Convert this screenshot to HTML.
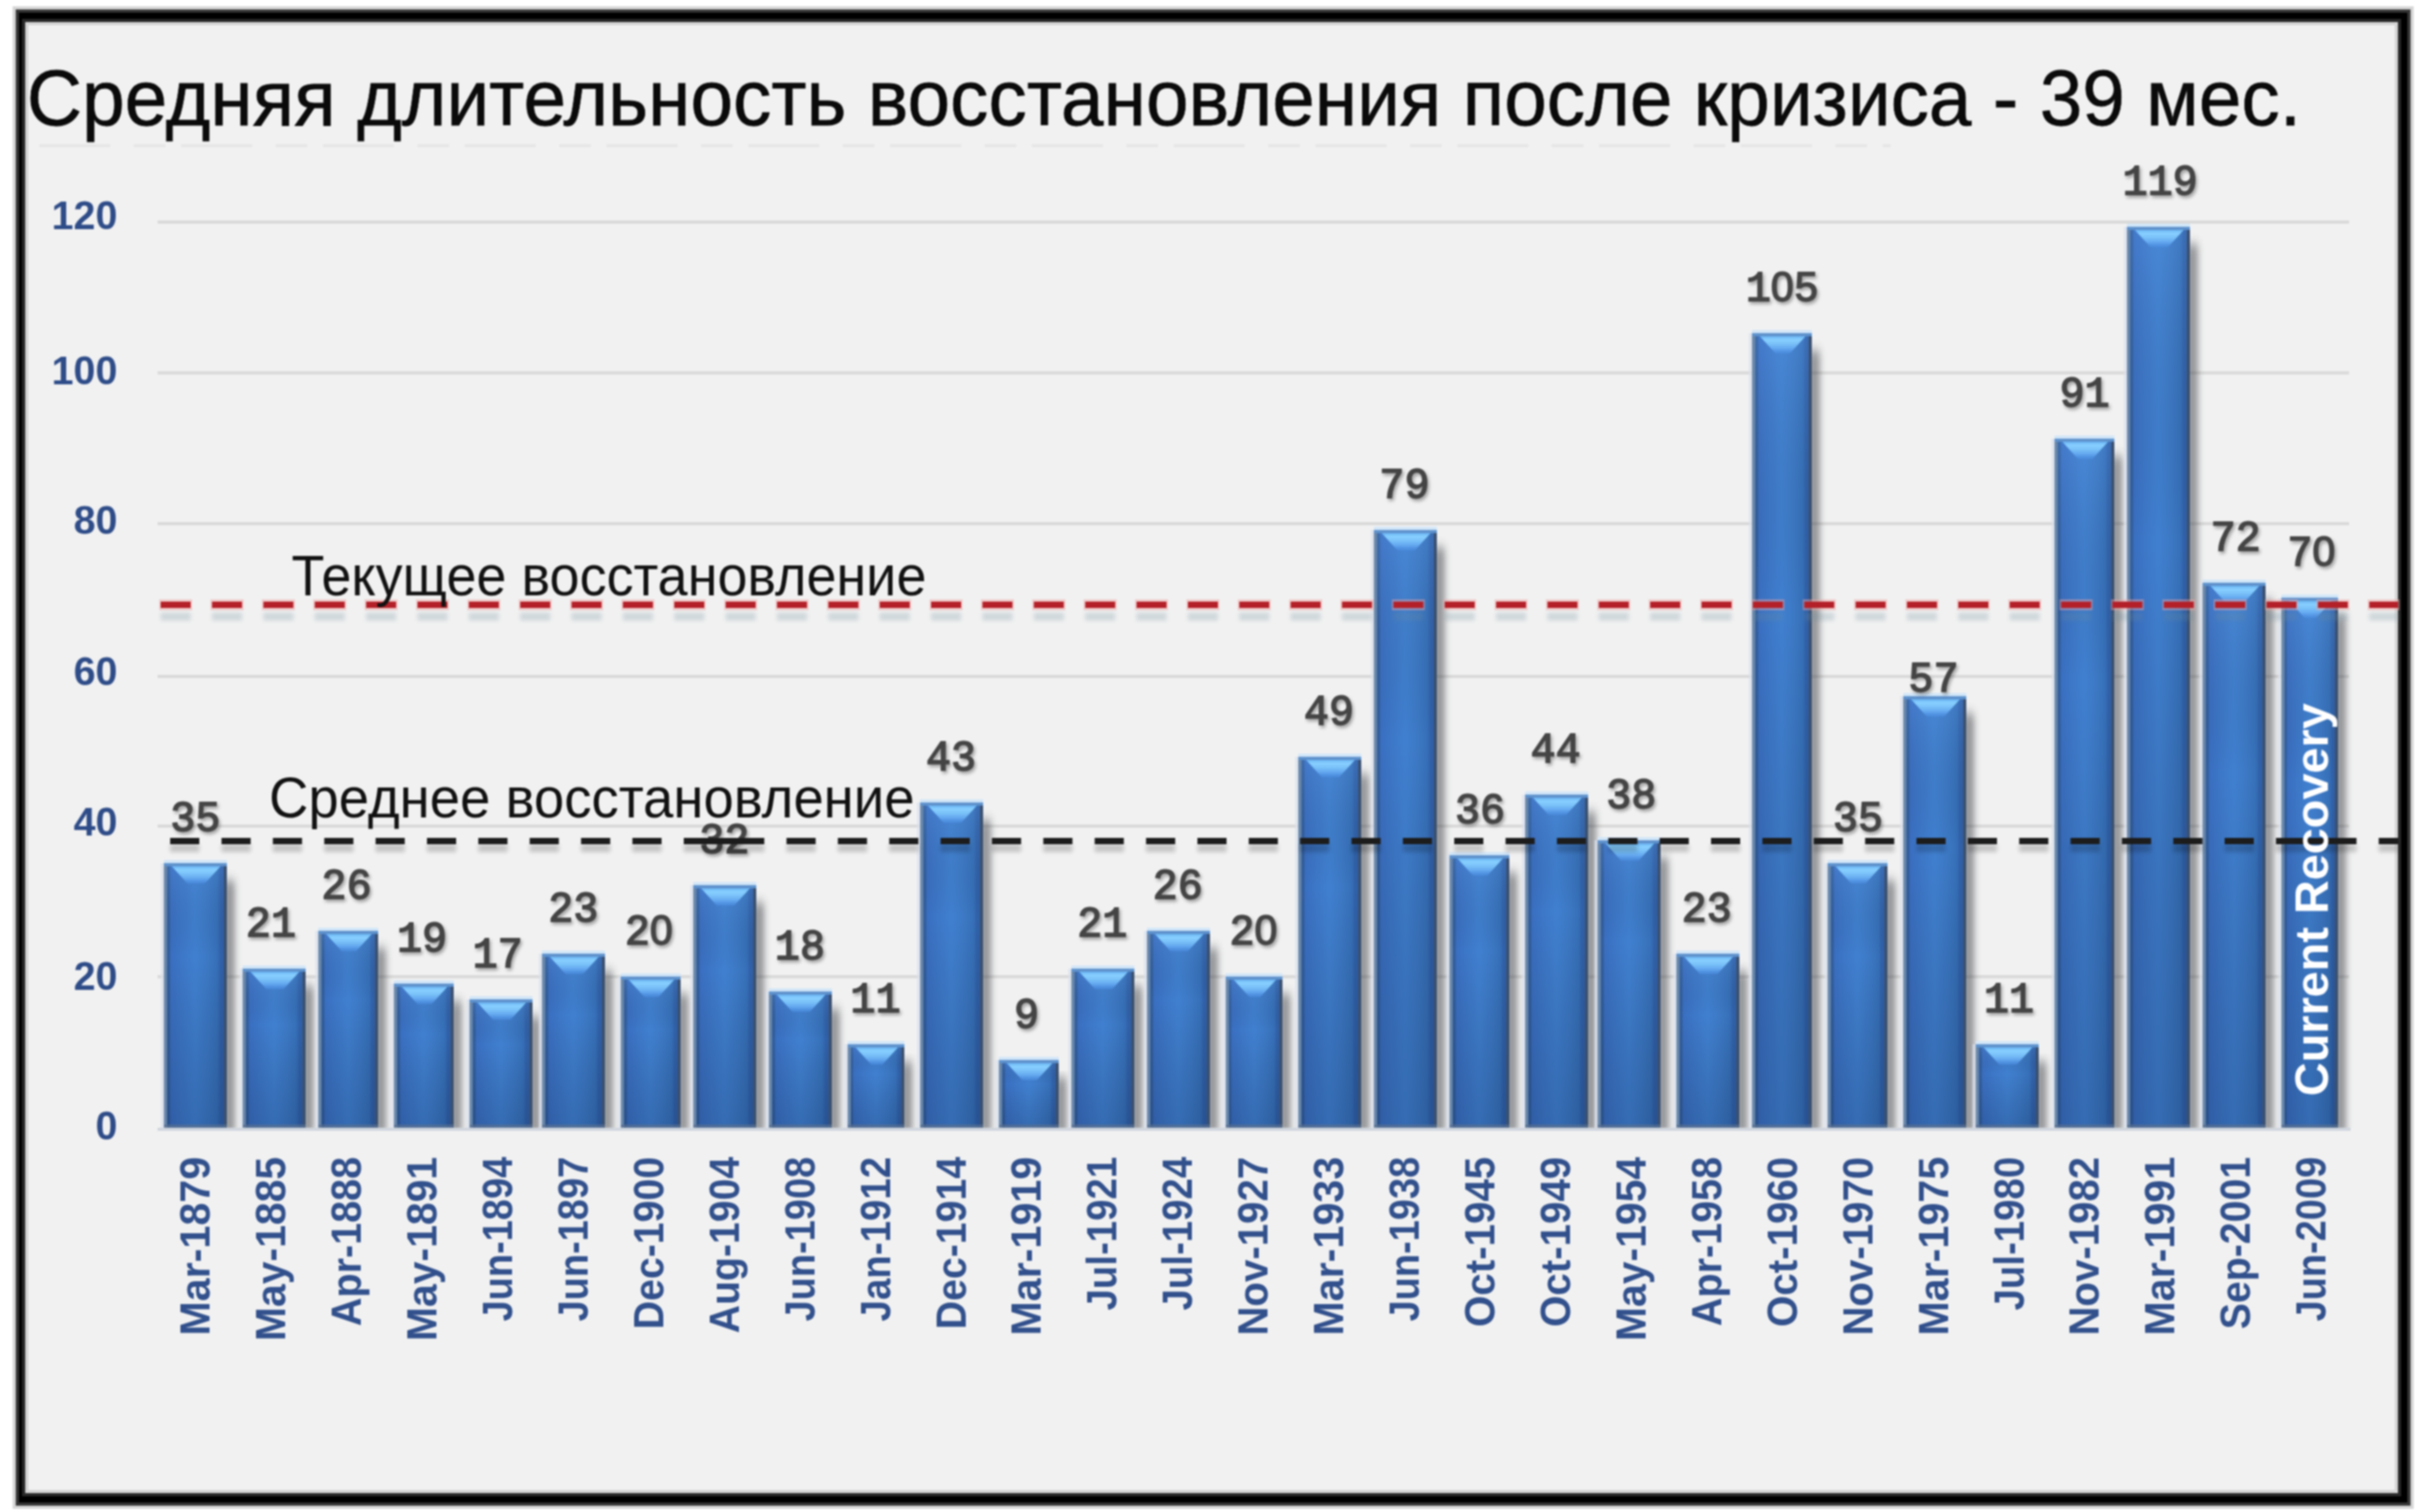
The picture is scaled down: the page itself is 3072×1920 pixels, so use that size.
<!DOCTYPE html><html><head><meta charset="utf-8"><style>html,body{margin:0;padding:0;background:#fff;width:3072px;height:1920px;overflow:hidden}svg{display:block;filter:blur(1.1px)}</style></head><body>
<svg width="3072" height="1920" viewBox="0 0 3072 1920">
<defs>
<linearGradient id="body" x1="0" y1="0" x2="1" y2="0"><stop offset="0" stop-color="#6a88aa"/><stop offset="0.05" stop-color="#6a88aa"/><stop offset="0.05" stop-color="#335f9e"/><stop offset="0.1" stop-color="#335f9e"/><stop offset="0.1" stop-color="#3a6ec0"/><stop offset="0.3" stop-color="#3d78c8"/><stop offset="0.5" stop-color="#4080d0"/><stop offset="0.7" stop-color="#3c78c4"/><stop offset="0.85" stop-color="#3670b8"/><stop offset="0.9" stop-color="#3060a8"/><stop offset="0.95" stop-color="#3060a8"/><stop offset="0.95" stop-color="#3a5070"/><stop offset="1" stop-color="#3a5070"/></linearGradient>
<linearGradient id="vshade" x1="0" y1="0" x2="0" y2="1"><stop offset="0" stop-color="#7ab8ff" stop-opacity="0.16"/><stop offset="0.35" stop-color="#000" stop-opacity="0"/><stop offset="1" stop-color="#001030" stop-opacity="0.18"/></linearGradient>
<linearGradient id="bevel" x1="0" y1="0" x2="0" y2="1"><stop offset="0" stop-color="#6ab4f4"/><stop offset="0.2" stop-color="#88d0ff"/><stop offset="0.45" stop-color="#78c0f8"/><stop offset="0.7" stop-color="#64a8f0"/><stop offset="1" stop-color="#4a8ce0" stop-opacity="0.6"/></linearGradient>
<linearGradient id="shadow" x1="0" y1="0" x2="1" y2="0"><stop offset="0" stop-color="#303640" stop-opacity="0.45"/><stop offset="0.5" stop-color="#404040" stop-opacity="0.25"/><stop offset="1" stop-color="#404040" stop-opacity="0.04"/></linearGradient>
<filter id="soft" x="-5%" y="-5%" width="110%" height="110%"><feGaussianBlur stdDeviation="1.2"/></filter>
<filter id="lblshadow" x="-20%" y="-20%" width="140%" height="150%"><feGaussianBlur in="SourceAlpha" stdDeviation="2"/><feOffset dx="2" dy="3"/><feComponentTransfer><feFuncA type="linear" slope="0.35"/></feComponentTransfer><feMerge><feMergeNode/><feMergeNode in="SourceGraphic"/></feMerge></filter>
<filter id="shblur" x="-100%" y="-10%" width="300%" height="120%"><feGaussianBlur stdDeviation="4.5 7"/></filter>
<filter id="dblur" x="-20%" y="-100%" width="140%" height="300%"><feGaussianBlur stdDeviation="2.5"/></filter>
<clipPath id="plotclip"><rect x="0" y="0" width="3072" height="1432"/></clipPath>
</defs>
<rect x="16" y="8" width="3048" height="1908" fill="#d6d6d6"/>
<rect x="20" y="12" width="3040" height="1900" fill="#363636"/>
<rect x="24" y="16" width="3032" height="1892" fill="#000"/>
<rect x="28" y="24" width="3020" height="1876" fill="#282828"/>
<rect x="32" y="28" width="3012" height="1868" fill="#d4d4d4"/>
<rect x="36" y="32" width="3004" height="1860" fill="#f1f1f1"/>
<line x1="50" y1="185" x2="2400" y2="185" stroke="#e6e6e6" stroke-width="4" stroke-dasharray="90 30 40 20"/>
<rect x="200" y="1238.3" width="2782" height="4" fill="#d9d9d9"/>
<rect x="200" y="1047.0" width="2782" height="4" fill="#d9d9d9"/>
<rect x="200" y="857.0" width="2782" height="4" fill="#d9d9d9"/>
<rect x="200" y="663.0" width="2782" height="4" fill="#d9d9d9"/>
<rect x="200" y="471.5" width="2782" height="4" fill="#d9d9d9"/>
<rect x="200" y="280.0" width="2782" height="4" fill="#d9d9d9"/>
<rect x="200" y="1432" width="2784" height="4" fill="#d0d6de"/>
<text x="149" y="1447.0" text-anchor="end" font-family="Liberation Sans" font-weight="bold" font-size="50" fill="#2e4c88">0</text>
<text x="149" y="1256.5" text-anchor="end" font-family="Liberation Sans" font-weight="bold" font-size="50" fill="#2e4c88">20</text>
<text x="149" y="1060.5" text-anchor="end" font-family="Liberation Sans" font-weight="bold" font-size="50" fill="#2e4c88">40</text>
<text x="149" y="870.0" text-anchor="end" font-family="Liberation Sans" font-weight="bold" font-size="50" fill="#2e4c88">60</text>
<text x="149" y="678.0" text-anchor="end" font-family="Liberation Sans" font-weight="bold" font-size="50" fill="#2e4c88">80</text>
<text x="149" y="487.5" text-anchor="end" font-family="Liberation Sans" font-weight="bold" font-size="50" fill="#2e4c88">100</text>
<text x="149" y="290.5" text-anchor="end" font-family="Liberation Sans" font-weight="bold" font-size="50" fill="#2e4c88">120</text>
<rect x="284" y="1118" width="14" height="324" fill="#30343a" opacity="0.5" filter="url(#shblur)" clip-path="url(#plotclip)"/>
<rect x="384" y="1252" width="14" height="190" fill="#30343a" opacity="0.5" filter="url(#shblur)" clip-path="url(#plotclip)"/>
<rect x="476" y="1204" width="14" height="238" fill="#30343a" opacity="0.5" filter="url(#shblur)" clip-path="url(#plotclip)"/>
<rect x="572" y="1271" width="14" height="171" fill="#30343a" opacity="0.5" filter="url(#shblur)" clip-path="url(#plotclip)"/>
<rect x="672" y="1291" width="14" height="151" fill="#30343a" opacity="0.5" filter="url(#shblur)" clip-path="url(#plotclip)"/>
<rect x="764" y="1233" width="14" height="209" fill="#30343a" opacity="0.5" filter="url(#shblur)" clip-path="url(#plotclip)"/>
<rect x="860" y="1262" width="14" height="180" fill="#30343a" opacity="0.5" filter="url(#shblur)" clip-path="url(#plotclip)"/>
<rect x="956" y="1146" width="14" height="296" fill="#30343a" opacity="0.5" filter="url(#shblur)" clip-path="url(#plotclip)"/>
<rect x="1052" y="1281" width="14" height="161" fill="#30343a" opacity="0.5" filter="url(#shblur)" clip-path="url(#plotclip)"/>
<rect x="1144" y="1348" width="14" height="94" fill="#30343a" opacity="0.5" filter="url(#shblur)" clip-path="url(#plotclip)"/>
<rect x="1244" y="1041" width="14" height="401" fill="#30343a" opacity="0.5" filter="url(#shblur)" clip-path="url(#plotclip)"/>
<rect x="1340" y="1368" width="14" height="74" fill="#30343a" opacity="0.5" filter="url(#shblur)" clip-path="url(#plotclip)"/>
<rect x="1436" y="1252" width="14" height="190" fill="#30343a" opacity="0.5" filter="url(#shblur)" clip-path="url(#plotclip)"/>
<rect x="1532" y="1204" width="14" height="238" fill="#30343a" opacity="0.5" filter="url(#shblur)" clip-path="url(#plotclip)"/>
<rect x="1624" y="1262" width="14" height="180" fill="#30343a" opacity="0.5" filter="url(#shblur)" clip-path="url(#plotclip)"/>
<rect x="1724" y="983" width="14" height="459" fill="#30343a" opacity="0.5" filter="url(#shblur)" clip-path="url(#plotclip)"/>
<rect x="1820" y="695" width="14" height="747" fill="#30343a" opacity="0.5" filter="url(#shblur)" clip-path="url(#plotclip)"/>
<rect x="1912" y="1108" width="14" height="334" fill="#30343a" opacity="0.5" filter="url(#shblur)" clip-path="url(#plotclip)"/>
<rect x="2012" y="1031" width="14" height="411" fill="#30343a" opacity="0.5" filter="url(#shblur)" clip-path="url(#plotclip)"/>
<rect x="2104" y="1089" width="14" height="353" fill="#30343a" opacity="0.5" filter="url(#shblur)" clip-path="url(#plotclip)"/>
<rect x="2204" y="1233" width="14" height="209" fill="#30343a" opacity="0.5" filter="url(#shblur)" clip-path="url(#plotclip)"/>
<rect x="2296" y="445" width="14" height="997" fill="#30343a" opacity="0.5" filter="url(#shblur)" clip-path="url(#plotclip)"/>
<rect x="2392" y="1118" width="14" height="324" fill="#30343a" opacity="0.5" filter="url(#shblur)" clip-path="url(#plotclip)"/>
<rect x="2492" y="906" width="14" height="536" fill="#30343a" opacity="0.5" filter="url(#shblur)" clip-path="url(#plotclip)"/>
<rect x="2584" y="1348" width="14" height="94" fill="#30343a" opacity="0.5" filter="url(#shblur)" clip-path="url(#plotclip)"/>
<rect x="2680" y="579" width="14" height="863" fill="#30343a" opacity="0.5" filter="url(#shblur)" clip-path="url(#plotclip)"/>
<rect x="2776" y="310" width="14" height="1132" fill="#30343a" opacity="0.5" filter="url(#shblur)" clip-path="url(#plotclip)"/>
<rect x="2872" y="762" width="14" height="680" fill="#30343a" opacity="0.5" filter="url(#shblur)" clip-path="url(#plotclip)"/>
<rect x="2964" y="781" width="14" height="661" fill="#30343a" opacity="0.5" filter="url(#shblur)" clip-path="url(#plotclip)"/>
<rect x="208" y="1092" width="80" height="4" fill="#d2e6f8"/>
<rect x="204" y="1096" width="4" height="336" fill="#d8e0ec" opacity="0.7"/>
<rect x="208" y="1096" width="80" height="336" fill="url(#body)"/>
<rect x="212" y="1096" width="72" height="336" fill="url(#vshade)"/>
<rect x="208" y="1096" width="80" height="4" fill="#5f92cc"/>
<rect x="208" y="1428" width="80" height="4" fill="#5a7090" opacity="0.7"/>
<polygon points="218,1100 280,1100 260,1122 238,1122" fill="url(#bevel)"/>
<rect x="308" y="1226" width="80" height="4" fill="#d2e6f8"/>
<rect x="304" y="1230" width="4" height="202" fill="#d8e0ec" opacity="0.7"/>
<rect x="308" y="1230" width="80" height="202" fill="url(#body)"/>
<rect x="312" y="1230" width="72" height="202" fill="url(#vshade)"/>
<rect x="308" y="1230" width="80" height="4" fill="#5f92cc"/>
<rect x="308" y="1428" width="80" height="4" fill="#5a7090" opacity="0.7"/>
<polygon points="318,1234 380,1234 360,1256 338,1256" fill="url(#bevel)"/>
<rect x="404" y="1178" width="76" height="4" fill="#d2e6f8"/>
<rect x="400" y="1182" width="4" height="250" fill="#d8e0ec" opacity="0.7"/>
<rect x="404" y="1182" width="76" height="250" fill="url(#body)"/>
<rect x="408" y="1182" width="68" height="250" fill="url(#vshade)"/>
<rect x="404" y="1182" width="76" height="4" fill="#5f92cc"/>
<rect x="404" y="1428" width="76" height="4" fill="#5a7090" opacity="0.7"/>
<polygon points="414,1186 472,1186 452,1208 434,1208" fill="url(#bevel)"/>
<rect x="500" y="1245" width="76" height="4" fill="#d2e6f8"/>
<rect x="496" y="1249" width="4" height="183" fill="#d8e0ec" opacity="0.7"/>
<rect x="500" y="1249" width="76" height="183" fill="url(#body)"/>
<rect x="504" y="1249" width="68" height="183" fill="url(#vshade)"/>
<rect x="500" y="1249" width="76" height="4" fill="#5f92cc"/>
<rect x="500" y="1428" width="76" height="4" fill="#5a7090" opacity="0.7"/>
<polygon points="510,1253 568,1253 548,1275 530,1275" fill="url(#bevel)"/>
<rect x="596" y="1265" width="80" height="4" fill="#d2e6f8"/>
<rect x="592" y="1269" width="4" height="163" fill="#d8e0ec" opacity="0.7"/>
<rect x="596" y="1269" width="80" height="163" fill="url(#body)"/>
<rect x="600" y="1269" width="72" height="163" fill="url(#vshade)"/>
<rect x="596" y="1269" width="80" height="4" fill="#5f92cc"/>
<rect x="596" y="1428" width="80" height="4" fill="#5a7090" opacity="0.7"/>
<polygon points="606,1273 668,1273 648,1295 626,1295" fill="url(#bevel)"/>
<rect x="688" y="1207" width="80" height="4" fill="#d2e6f8"/>
<rect x="684" y="1211" width="4" height="221" fill="#d8e0ec" opacity="0.7"/>
<rect x="688" y="1211" width="80" height="221" fill="url(#body)"/>
<rect x="692" y="1211" width="72" height="221" fill="url(#vshade)"/>
<rect x="688" y="1211" width="80" height="4" fill="#5f92cc"/>
<rect x="688" y="1428" width="80" height="4" fill="#5a7090" opacity="0.7"/>
<polygon points="698,1215 760,1215 740,1237 718,1237" fill="url(#bevel)"/>
<rect x="788" y="1236" width="76" height="4" fill="#d2e6f8"/>
<rect x="784" y="1240" width="4" height="192" fill="#d8e0ec" opacity="0.7"/>
<rect x="788" y="1240" width="76" height="192" fill="url(#body)"/>
<rect x="792" y="1240" width="68" height="192" fill="url(#vshade)"/>
<rect x="788" y="1240" width="76" height="4" fill="#5f92cc"/>
<rect x="788" y="1428" width="76" height="4" fill="#5a7090" opacity="0.7"/>
<polygon points="798,1244 856,1244 836,1266 818,1266" fill="url(#bevel)"/>
<rect x="880" y="1120" width="80" height="4" fill="#d2e6f8"/>
<rect x="876" y="1124" width="4" height="308" fill="#d8e0ec" opacity="0.7"/>
<rect x="880" y="1124" width="80" height="308" fill="url(#body)"/>
<rect x="884" y="1124" width="72" height="308" fill="url(#vshade)"/>
<rect x="880" y="1124" width="80" height="4" fill="#5f92cc"/>
<rect x="880" y="1428" width="80" height="4" fill="#5a7090" opacity="0.7"/>
<polygon points="890,1128 952,1128 932,1150 910,1150" fill="url(#bevel)"/>
<rect x="976" y="1255" width="80" height="4" fill="#d2e6f8"/>
<rect x="972" y="1259" width="4" height="173" fill="#d8e0ec" opacity="0.7"/>
<rect x="976" y="1259" width="80" height="173" fill="url(#body)"/>
<rect x="980" y="1259" width="72" height="173" fill="url(#vshade)"/>
<rect x="976" y="1259" width="80" height="4" fill="#5f92cc"/>
<rect x="976" y="1428" width="80" height="4" fill="#5a7090" opacity="0.7"/>
<polygon points="986,1263 1048,1263 1028,1285 1006,1285" fill="url(#bevel)"/>
<rect x="1076" y="1322" width="72" height="4" fill="#d2e6f8"/>
<rect x="1072" y="1326" width="4" height="106" fill="#d8e0ec" opacity="0.7"/>
<rect x="1076" y="1326" width="72" height="106" fill="url(#body)"/>
<rect x="1080" y="1326" width="64" height="106" fill="url(#vshade)"/>
<rect x="1076" y="1326" width="72" height="4" fill="#5f92cc"/>
<rect x="1076" y="1428" width="72" height="4" fill="#5a7090" opacity="0.7"/>
<polygon points="1086,1330 1140,1330 1120,1352 1106,1352" fill="url(#bevel)"/>
<rect x="1168" y="1015" width="80" height="4" fill="#d2e6f8"/>
<rect x="1164" y="1019" width="4" height="413" fill="#d8e0ec" opacity="0.7"/>
<rect x="1168" y="1019" width="80" height="413" fill="url(#body)"/>
<rect x="1172" y="1019" width="72" height="413" fill="url(#vshade)"/>
<rect x="1168" y="1019" width="80" height="4" fill="#5f92cc"/>
<rect x="1168" y="1428" width="80" height="4" fill="#5a7090" opacity="0.7"/>
<polygon points="1178,1023 1240,1023 1220,1045 1198,1045" fill="url(#bevel)"/>
<rect x="1268" y="1342" width="76" height="4" fill="#d2e6f8"/>
<rect x="1264" y="1346" width="4" height="86" fill="#d8e0ec" opacity="0.7"/>
<rect x="1268" y="1346" width="76" height="86" fill="url(#body)"/>
<rect x="1272" y="1346" width="68" height="86" fill="url(#vshade)"/>
<rect x="1268" y="1346" width="76" height="4" fill="#5f92cc"/>
<rect x="1268" y="1428" width="76" height="4" fill="#5a7090" opacity="0.7"/>
<polygon points="1278,1350 1336,1350 1316,1372 1298,1372" fill="url(#bevel)"/>
<rect x="1360" y="1226" width="80" height="4" fill="#d2e6f8"/>
<rect x="1356" y="1230" width="4" height="202" fill="#d8e0ec" opacity="0.7"/>
<rect x="1360" y="1230" width="80" height="202" fill="url(#body)"/>
<rect x="1364" y="1230" width="72" height="202" fill="url(#vshade)"/>
<rect x="1360" y="1230" width="80" height="4" fill="#5f92cc"/>
<rect x="1360" y="1428" width="80" height="4" fill="#5a7090" opacity="0.7"/>
<polygon points="1370,1234 1432,1234 1412,1256 1390,1256" fill="url(#bevel)"/>
<rect x="1456" y="1178" width="80" height="4" fill="#d2e6f8"/>
<rect x="1452" y="1182" width="4" height="250" fill="#d8e0ec" opacity="0.7"/>
<rect x="1456" y="1182" width="80" height="250" fill="url(#body)"/>
<rect x="1460" y="1182" width="72" height="250" fill="url(#vshade)"/>
<rect x="1456" y="1182" width="80" height="4" fill="#5f92cc"/>
<rect x="1456" y="1428" width="80" height="4" fill="#5a7090" opacity="0.7"/>
<polygon points="1466,1186 1528,1186 1508,1208 1486,1208" fill="url(#bevel)"/>
<rect x="1556" y="1236" width="72" height="4" fill="#d2e6f8"/>
<rect x="1552" y="1240" width="4" height="192" fill="#d8e0ec" opacity="0.7"/>
<rect x="1556" y="1240" width="72" height="192" fill="url(#body)"/>
<rect x="1560" y="1240" width="64" height="192" fill="url(#vshade)"/>
<rect x="1556" y="1240" width="72" height="4" fill="#5f92cc"/>
<rect x="1556" y="1428" width="72" height="4" fill="#5a7090" opacity="0.7"/>
<polygon points="1566,1244 1620,1244 1600,1266 1586,1266" fill="url(#bevel)"/>
<rect x="1648" y="957" width="80" height="4" fill="#d2e6f8"/>
<rect x="1644" y="961" width="4" height="471" fill="#d8e0ec" opacity="0.7"/>
<rect x="1648" y="961" width="80" height="471" fill="url(#body)"/>
<rect x="1652" y="961" width="72" height="471" fill="url(#vshade)"/>
<rect x="1648" y="961" width="80" height="4" fill="#5f92cc"/>
<rect x="1648" y="1428" width="80" height="4" fill="#5a7090" opacity="0.7"/>
<polygon points="1658,965 1720,965 1700,987 1678,987" fill="url(#bevel)"/>
<rect x="1744" y="669" width="80" height="4" fill="#d2e6f8"/>
<rect x="1740" y="673" width="4" height="759" fill="#d8e0ec" opacity="0.7"/>
<rect x="1744" y="673" width="80" height="759" fill="url(#body)"/>
<rect x="1748" y="673" width="72" height="759" fill="url(#vshade)"/>
<rect x="1744" y="673" width="80" height="4" fill="#5f92cc"/>
<rect x="1744" y="1428" width="80" height="4" fill="#5a7090" opacity="0.7"/>
<polygon points="1754,677 1816,677 1796,699 1774,699" fill="url(#bevel)"/>
<rect x="1840" y="1082" width="76" height="4" fill="#d2e6f8"/>
<rect x="1836" y="1086" width="4" height="346" fill="#d8e0ec" opacity="0.7"/>
<rect x="1840" y="1086" width="76" height="346" fill="url(#body)"/>
<rect x="1844" y="1086" width="68" height="346" fill="url(#vshade)"/>
<rect x="1840" y="1086" width="76" height="4" fill="#5f92cc"/>
<rect x="1840" y="1428" width="76" height="4" fill="#5a7090" opacity="0.7"/>
<polygon points="1850,1090 1908,1090 1888,1112 1870,1112" fill="url(#bevel)"/>
<rect x="1936" y="1005" width="80" height="4" fill="#d2e6f8"/>
<rect x="1932" y="1009" width="4" height="423" fill="#d8e0ec" opacity="0.7"/>
<rect x="1936" y="1009" width="80" height="423" fill="url(#body)"/>
<rect x="1940" y="1009" width="72" height="423" fill="url(#vshade)"/>
<rect x="1936" y="1009" width="80" height="4" fill="#5f92cc"/>
<rect x="1936" y="1428" width="80" height="4" fill="#5a7090" opacity="0.7"/>
<polygon points="1946,1013 2008,1013 1988,1035 1966,1035" fill="url(#bevel)"/>
<rect x="2028" y="1063" width="80" height="4" fill="#d2e6f8"/>
<rect x="2024" y="1067" width="4" height="365" fill="#d8e0ec" opacity="0.7"/>
<rect x="2028" y="1067" width="80" height="365" fill="url(#body)"/>
<rect x="2032" y="1067" width="72" height="365" fill="url(#vshade)"/>
<rect x="2028" y="1067" width="80" height="4" fill="#5f92cc"/>
<rect x="2028" y="1428" width="80" height="4" fill="#5a7090" opacity="0.7"/>
<polygon points="2038,1071 2100,1071 2080,1093 2058,1093" fill="url(#bevel)"/>
<rect x="2128" y="1207" width="80" height="4" fill="#d2e6f8"/>
<rect x="2124" y="1211" width="4" height="221" fill="#d8e0ec" opacity="0.7"/>
<rect x="2128" y="1211" width="80" height="221" fill="url(#body)"/>
<rect x="2132" y="1211" width="72" height="221" fill="url(#vshade)"/>
<rect x="2128" y="1211" width="80" height="4" fill="#5f92cc"/>
<rect x="2128" y="1428" width="80" height="4" fill="#5a7090" opacity="0.7"/>
<polygon points="2138,1215 2200,1215 2180,1237 2158,1237" fill="url(#bevel)"/>
<rect x="2224" y="419" width="76" height="4" fill="#d2e6f8"/>
<rect x="2220" y="423" width="4" height="1009" fill="#d8e0ec" opacity="0.7"/>
<rect x="2224" y="423" width="76" height="1009" fill="url(#body)"/>
<rect x="2228" y="423" width="68" height="1009" fill="url(#vshade)"/>
<rect x="2224" y="423" width="76" height="4" fill="#5f92cc"/>
<rect x="2224" y="1428" width="76" height="4" fill="#5a7090" opacity="0.7"/>
<polygon points="2234,427 2292,427 2272,449 2254,449" fill="url(#bevel)"/>
<rect x="2320" y="1092" width="76" height="4" fill="#d2e6f8"/>
<rect x="2316" y="1096" width="4" height="336" fill="#d8e0ec" opacity="0.7"/>
<rect x="2320" y="1096" width="76" height="336" fill="url(#body)"/>
<rect x="2324" y="1096" width="68" height="336" fill="url(#vshade)"/>
<rect x="2320" y="1096" width="76" height="4" fill="#5f92cc"/>
<rect x="2320" y="1428" width="76" height="4" fill="#5a7090" opacity="0.7"/>
<polygon points="2330,1100 2388,1100 2368,1122 2350,1122" fill="url(#bevel)"/>
<rect x="2416" y="880" width="80" height="4" fill="#d2e6f8"/>
<rect x="2412" y="884" width="4" height="548" fill="#d8e0ec" opacity="0.7"/>
<rect x="2416" y="884" width="80" height="548" fill="url(#body)"/>
<rect x="2420" y="884" width="72" height="548" fill="url(#vshade)"/>
<rect x="2416" y="884" width="80" height="4" fill="#5f92cc"/>
<rect x="2416" y="1428" width="80" height="4" fill="#5a7090" opacity="0.7"/>
<polygon points="2426,888 2488,888 2468,910 2446,910" fill="url(#bevel)"/>
<rect x="2508" y="1322" width="80" height="4" fill="#d2e6f8"/>
<rect x="2504" y="1326" width="4" height="106" fill="#d8e0ec" opacity="0.7"/>
<rect x="2508" y="1326" width="80" height="106" fill="url(#body)"/>
<rect x="2512" y="1326" width="72" height="106" fill="url(#vshade)"/>
<rect x="2508" y="1326" width="80" height="4" fill="#5f92cc"/>
<rect x="2508" y="1428" width="80" height="4" fill="#5a7090" opacity="0.7"/>
<polygon points="2518,1330 2580,1330 2560,1352 2538,1352" fill="url(#bevel)"/>
<rect x="2608" y="553" width="76" height="4" fill="#d2e6f8"/>
<rect x="2604" y="557" width="4" height="875" fill="#d8e0ec" opacity="0.7"/>
<rect x="2608" y="557" width="76" height="875" fill="url(#body)"/>
<rect x="2612" y="557" width="68" height="875" fill="url(#vshade)"/>
<rect x="2608" y="557" width="76" height="4" fill="#5f92cc"/>
<rect x="2608" y="1428" width="76" height="4" fill="#5a7090" opacity="0.7"/>
<polygon points="2618,561 2676,561 2656,583 2638,583" fill="url(#bevel)"/>
<rect x="2700" y="284" width="80" height="4" fill="#d2e6f8"/>
<rect x="2696" y="288" width="4" height="1144" fill="#d8e0ec" opacity="0.7"/>
<rect x="2700" y="288" width="80" height="1144" fill="url(#body)"/>
<rect x="2704" y="288" width="72" height="1144" fill="url(#vshade)"/>
<rect x="2700" y="288" width="80" height="4" fill="#5f92cc"/>
<rect x="2700" y="1428" width="80" height="4" fill="#5a7090" opacity="0.7"/>
<polygon points="2710,292 2772,292 2752,314 2730,314" fill="url(#bevel)"/>
<rect x="2796" y="736" width="80" height="4" fill="#d2e6f8"/>
<rect x="2792" y="740" width="4" height="692" fill="#d8e0ec" opacity="0.7"/>
<rect x="2796" y="740" width="80" height="692" fill="url(#body)"/>
<rect x="2800" y="740" width="72" height="692" fill="url(#vshade)"/>
<rect x="2796" y="740" width="80" height="4" fill="#5f92cc"/>
<rect x="2796" y="1428" width="80" height="4" fill="#5a7090" opacity="0.7"/>
<polygon points="2806,744 2868,744 2848,766 2826,766" fill="url(#bevel)"/>
<rect x="2896" y="755" width="72" height="4" fill="#d2e6f8"/>
<rect x="2892" y="759" width="4" height="673" fill="#d8e0ec" opacity="0.7"/>
<rect x="2896" y="759" width="72" height="673" fill="url(#body)"/>
<rect x="2900" y="759" width="64" height="673" fill="url(#vshade)"/>
<rect x="2896" y="759" width="72" height="4" fill="#5f92cc"/>
<rect x="2896" y="1428" width="72" height="4" fill="#5a7090" opacity="0.7"/>
<polygon points="2906,763 2960,763 2940,785 2926,785" fill="url(#bevel)"/>
<text x="248.0" y="1055" text-anchor="middle" font-family="Liberation Mono" font-size="53" fill="#444" stroke="#444" stroke-width="1.8" filter="url(#lblshadow)">35</text>
<text x="343.9" y="1189" text-anchor="middle" font-family="Liberation Mono" font-size="53" fill="#444" stroke="#444" stroke-width="1.8" filter="url(#lblshadow)">21</text>
<text x="439.9" y="1141" text-anchor="middle" font-family="Liberation Mono" font-size="53" fill="#444" stroke="#444" stroke-width="1.8" filter="url(#lblshadow)">26</text>
<text x="535.8" y="1208" text-anchor="middle" font-family="Liberation Mono" font-size="53" fill="#444" stroke="#444" stroke-width="1.8" filter="url(#lblshadow)">19</text>
<text x="631.7" y="1228" text-anchor="middle" font-family="Liberation Mono" font-size="53" fill="#444" stroke="#444" stroke-width="1.8" filter="url(#lblshadow)">17</text>
<text x="727.7" y="1170" text-anchor="middle" font-family="Liberation Mono" font-size="53" fill="#444" stroke="#444" stroke-width="1.8" filter="url(#lblshadow)">23</text>
<text x="823.6" y="1199" text-anchor="middle" font-family="Liberation Mono" font-size="53" fill="#444" stroke="#444" stroke-width="1.8" filter="url(#lblshadow)">2<tspan font-family="Liberation Sans" font-size="52">0</tspan></text>
<text x="919.5" y="1083" text-anchor="middle" font-family="Liberation Mono" font-size="53" fill="#444" stroke="#444" stroke-width="1.8" filter="url(#lblshadow)">32</text>
<text x="1015.4" y="1218" text-anchor="middle" font-family="Liberation Mono" font-size="53" fill="#444" stroke="#444" stroke-width="1.8" filter="url(#lblshadow)">18</text>
<text x="1111.4" y="1285" text-anchor="middle" font-family="Liberation Mono" font-size="53" fill="#444" stroke="#444" stroke-width="1.8" filter="url(#lblshadow)">11</text>
<text x="1207.3" y="978" text-anchor="middle" font-family="Liberation Mono" font-size="53" fill="#444" stroke="#444" stroke-width="1.8" filter="url(#lblshadow)">43</text>
<text x="1303.2" y="1305" text-anchor="middle" font-family="Liberation Mono" font-size="53" fill="#444" stroke="#444" stroke-width="1.8" filter="url(#lblshadow)">9</text>
<text x="1399.2" y="1189" text-anchor="middle" font-family="Liberation Mono" font-size="53" fill="#444" stroke="#444" stroke-width="1.8" filter="url(#lblshadow)">21</text>
<text x="1495.1" y="1141" text-anchor="middle" font-family="Liberation Mono" font-size="53" fill="#444" stroke="#444" stroke-width="1.8" filter="url(#lblshadow)">26</text>
<text x="1591.0" y="1199" text-anchor="middle" font-family="Liberation Mono" font-size="53" fill="#444" stroke="#444" stroke-width="1.8" filter="url(#lblshadow)">2<tspan font-family="Liberation Sans" font-size="52">0</tspan></text>
<text x="1687.0" y="920" text-anchor="middle" font-family="Liberation Mono" font-size="53" fill="#444" stroke="#444" stroke-width="1.8" filter="url(#lblshadow)">49</text>
<text x="1782.9" y="632" text-anchor="middle" font-family="Liberation Mono" font-size="53" fill="#444" stroke="#444" stroke-width="1.8" filter="url(#lblshadow)">79</text>
<text x="1878.8" y="1045" text-anchor="middle" font-family="Liberation Mono" font-size="53" fill="#444" stroke="#444" stroke-width="1.8" filter="url(#lblshadow)">36</text>
<text x="1974.7" y="968" text-anchor="middle" font-family="Liberation Mono" font-size="53" fill="#444" stroke="#444" stroke-width="1.8" filter="url(#lblshadow)">44</text>
<text x="2070.7" y="1026" text-anchor="middle" font-family="Liberation Mono" font-size="53" fill="#444" stroke="#444" stroke-width="1.8" filter="url(#lblshadow)">38</text>
<text x="2166.6" y="1170" text-anchor="middle" font-family="Liberation Mono" font-size="53" fill="#444" stroke="#444" stroke-width="1.8" filter="url(#lblshadow)">23</text>
<text x="2262.5" y="382" text-anchor="middle" font-family="Liberation Mono" font-size="53" fill="#444" stroke="#444" stroke-width="1.8" filter="url(#lblshadow)">1<tspan font-family="Liberation Sans" font-size="52">0</tspan>5</text>
<text x="2358.5" y="1055" text-anchor="middle" font-family="Liberation Mono" font-size="53" fill="#444" stroke="#444" stroke-width="1.8" filter="url(#lblshadow)">35</text>
<text x="2454.4" y="878" text-anchor="middle" font-family="Liberation Mono" font-size="53" fill="#444" stroke="#444" stroke-width="1.8" filter="url(#lblshadow)">57</text>
<text x="2550.3" y="1285" text-anchor="middle" font-family="Liberation Mono" font-size="53" fill="#444" stroke="#444" stroke-width="1.8" filter="url(#lblshadow)">11</text>
<text x="2646.2" y="516" text-anchor="middle" font-family="Liberation Mono" font-size="53" fill="#444" stroke="#444" stroke-width="1.8" filter="url(#lblshadow)">91</text>
<text x="2742.2" y="247" text-anchor="middle" font-family="Liberation Mono" font-size="53" fill="#444" stroke="#444" stroke-width="1.8" filter="url(#lblshadow)">119</text>
<text x="2838.1" y="699" text-anchor="middle" font-family="Liberation Mono" font-size="53" fill="#444" stroke="#444" stroke-width="1.8" filter="url(#lblshadow)">72</text>
<text x="2934.0" y="718" text-anchor="middle" font-family="Liberation Mono" font-size="53" fill="#444" stroke="#444" stroke-width="1.8" filter="url(#lblshadow)">7<tspan font-family="Liberation Sans" font-size="52">0</tspan></text>
<rect x="204.0" y="778" width="38.0" height="10" fill="#6a8a9a" opacity="0.25" filter="url(#dblur)"/>
<rect x="202.0" y="761" width="42.0" height="14" fill="#f0a0a0" opacity="0.45"/>
<rect x="204.0" y="764" width="38.0" height="8" fill="#b42028"/>
<rect x="269.2" y="778" width="38.0" height="10" fill="#6a8a9a" opacity="0.25" filter="url(#dblur)"/>
<rect x="267.2" y="761" width="42.0" height="14" fill="#f0a0a0" opacity="0.45"/>
<rect x="269.2" y="764" width="38.0" height="8" fill="#b42028"/>
<rect x="334.4" y="778" width="38.0" height="10" fill="#6a8a9a" opacity="0.25" filter="url(#dblur)"/>
<rect x="332.4" y="761" width="42.0" height="14" fill="#f0a0a0" opacity="0.45"/>
<rect x="334.4" y="764" width="38.0" height="8" fill="#b42028"/>
<rect x="399.6" y="778" width="38.0" height="10" fill="#6a8a9a" opacity="0.25" filter="url(#dblur)"/>
<rect x="397.6" y="761" width="42.0" height="14" fill="#f0a0a0" opacity="0.45"/>
<rect x="399.6" y="764" width="38.0" height="8" fill="#b42028"/>
<rect x="464.8" y="778" width="38.0" height="10" fill="#6a8a9a" opacity="0.25" filter="url(#dblur)"/>
<rect x="462.8" y="761" width="42.0" height="14" fill="#f0a0a0" opacity="0.45"/>
<rect x="464.8" y="764" width="38.0" height="8" fill="#b42028"/>
<rect x="530.0" y="778" width="38.0" height="10" fill="#6a8a9a" opacity="0.25" filter="url(#dblur)"/>
<rect x="528.0" y="761" width="42.0" height="14" fill="#f0a0a0" opacity="0.45"/>
<rect x="530.0" y="764" width="38.0" height="8" fill="#b42028"/>
<rect x="595.2" y="778" width="38.0" height="10" fill="#6a8a9a" opacity="0.25" filter="url(#dblur)"/>
<rect x="593.2" y="761" width="42.0" height="14" fill="#f0a0a0" opacity="0.45"/>
<rect x="595.2" y="764" width="38.0" height="8" fill="#b42028"/>
<rect x="660.4" y="778" width="38.0" height="10" fill="#6a8a9a" opacity="0.25" filter="url(#dblur)"/>
<rect x="658.4" y="761" width="42.0" height="14" fill="#f0a0a0" opacity="0.45"/>
<rect x="660.4" y="764" width="38.0" height="8" fill="#b42028"/>
<rect x="725.6" y="778" width="38.0" height="10" fill="#6a8a9a" opacity="0.25" filter="url(#dblur)"/>
<rect x="723.6" y="761" width="42.0" height="14" fill="#f0a0a0" opacity="0.45"/>
<rect x="725.6" y="764" width="38.0" height="8" fill="#b42028"/>
<rect x="790.8" y="778" width="38.0" height="10" fill="#6a8a9a" opacity="0.25" filter="url(#dblur)"/>
<rect x="788.8" y="761" width="42.0" height="14" fill="#f0a0a0" opacity="0.45"/>
<rect x="790.8" y="764" width="38.0" height="8" fill="#b42028"/>
<rect x="856.0" y="778" width="38.0" height="10" fill="#6a8a9a" opacity="0.25" filter="url(#dblur)"/>
<rect x="854.0" y="761" width="42.0" height="14" fill="#f0a0a0" opacity="0.45"/>
<rect x="856.0" y="764" width="38.0" height="8" fill="#b42028"/>
<rect x="921.2" y="778" width="38.0" height="10" fill="#6a8a9a" opacity="0.25" filter="url(#dblur)"/>
<rect x="919.2" y="761" width="42.0" height="14" fill="#f0a0a0" opacity="0.45"/>
<rect x="921.2" y="764" width="38.0" height="8" fill="#b42028"/>
<rect x="986.4" y="778" width="38.0" height="10" fill="#6a8a9a" opacity="0.25" filter="url(#dblur)"/>
<rect x="984.4" y="761" width="42.0" height="14" fill="#f0a0a0" opacity="0.45"/>
<rect x="986.4" y="764" width="38.0" height="8" fill="#b42028"/>
<rect x="1051.6" y="778" width="38.0" height="10" fill="#6a8a9a" opacity="0.25" filter="url(#dblur)"/>
<rect x="1049.6" y="761" width="42.0" height="14" fill="#f0a0a0" opacity="0.45"/>
<rect x="1051.6" y="764" width="38.0" height="8" fill="#b42028"/>
<rect x="1116.8" y="778" width="38.0" height="10" fill="#6a8a9a" opacity="0.25" filter="url(#dblur)"/>
<rect x="1114.8" y="761" width="42.0" height="14" fill="#f0a0a0" opacity="0.45"/>
<rect x="1116.8" y="764" width="38.0" height="8" fill="#b42028"/>
<rect x="1182.0" y="778" width="38.0" height="10" fill="#6a8a9a" opacity="0.25" filter="url(#dblur)"/>
<rect x="1180.0" y="761" width="42.0" height="14" fill="#f0a0a0" opacity="0.45"/>
<rect x="1182.0" y="764" width="38.0" height="8" fill="#b42028"/>
<rect x="1247.2" y="778" width="38.0" height="10" fill="#6a8a9a" opacity="0.25" filter="url(#dblur)"/>
<rect x="1245.2" y="761" width="42.0" height="14" fill="#f0a0a0" opacity="0.45"/>
<rect x="1247.2" y="764" width="38.0" height="8" fill="#b42028"/>
<rect x="1312.4" y="778" width="38.0" height="10" fill="#6a8a9a" opacity="0.25" filter="url(#dblur)"/>
<rect x="1310.4" y="761" width="42.0" height="14" fill="#f0a0a0" opacity="0.45"/>
<rect x="1312.4" y="764" width="38.0" height="8" fill="#b42028"/>
<rect x="1377.6" y="778" width="38.0" height="10" fill="#6a8a9a" opacity="0.25" filter="url(#dblur)"/>
<rect x="1375.6" y="761" width="42.0" height="14" fill="#f0a0a0" opacity="0.45"/>
<rect x="1377.6" y="764" width="38.0" height="8" fill="#b42028"/>
<rect x="1442.8" y="778" width="38.0" height="10" fill="#6a8a9a" opacity="0.25" filter="url(#dblur)"/>
<rect x="1440.8" y="761" width="42.0" height="14" fill="#f0a0a0" opacity="0.45"/>
<rect x="1442.8" y="764" width="38.0" height="8" fill="#b42028"/>
<rect x="1508.0" y="778" width="38.0" height="10" fill="#6a8a9a" opacity="0.25" filter="url(#dblur)"/>
<rect x="1506.0" y="761" width="42.0" height="14" fill="#f0a0a0" opacity="0.45"/>
<rect x="1508.0" y="764" width="38.0" height="8" fill="#b42028"/>
<rect x="1573.2" y="778" width="38.0" height="10" fill="#6a8a9a" opacity="0.25" filter="url(#dblur)"/>
<rect x="1571.2" y="761" width="42.0" height="14" fill="#f0a0a0" opacity="0.45"/>
<rect x="1573.2" y="764" width="38.0" height="8" fill="#b42028"/>
<rect x="1638.4" y="778" width="38.0" height="10" fill="#6a8a9a" opacity="0.25" filter="url(#dblur)"/>
<rect x="1636.4" y="761" width="42.0" height="14" fill="#f0a0a0" opacity="0.45"/>
<rect x="1638.4" y="764" width="38.0" height="8" fill="#b42028"/>
<rect x="1703.6" y="778" width="38.0" height="10" fill="#6a8a9a" opacity="0.25" filter="url(#dblur)"/>
<rect x="1701.6" y="761" width="42.0" height="14" fill="#f0a0a0" opacity="0.45"/>
<rect x="1703.6" y="764" width="38.0" height="8" fill="#b42028"/>
<rect x="1768.8" y="778" width="38.0" height="10" fill="#6a8a9a" opacity="0.25" filter="url(#dblur)"/>
<rect x="1766.8" y="761" width="42.0" height="14" fill="#f0a0a0" opacity="0.45"/>
<rect x="1768.8" y="764" width="38.0" height="8" fill="#b42028"/>
<rect x="1834.0" y="778" width="38.0" height="10" fill="#6a8a9a" opacity="0.25" filter="url(#dblur)"/>
<rect x="1832.0" y="761" width="42.0" height="14" fill="#f0a0a0" opacity="0.45"/>
<rect x="1834.0" y="764" width="38.0" height="8" fill="#b42028"/>
<rect x="1899.2" y="778" width="38.0" height="10" fill="#6a8a9a" opacity="0.25" filter="url(#dblur)"/>
<rect x="1897.2" y="761" width="42.0" height="14" fill="#f0a0a0" opacity="0.45"/>
<rect x="1899.2" y="764" width="38.0" height="8" fill="#b42028"/>
<rect x="1964.4" y="778" width="38.0" height="10" fill="#6a8a9a" opacity="0.25" filter="url(#dblur)"/>
<rect x="1962.4" y="761" width="42.0" height="14" fill="#f0a0a0" opacity="0.45"/>
<rect x="1964.4" y="764" width="38.0" height="8" fill="#b42028"/>
<rect x="2029.6" y="778" width="38.0" height="10" fill="#6a8a9a" opacity="0.25" filter="url(#dblur)"/>
<rect x="2027.6" y="761" width="42.0" height="14" fill="#f0a0a0" opacity="0.45"/>
<rect x="2029.6" y="764" width="38.0" height="8" fill="#b42028"/>
<rect x="2094.8" y="778" width="38.0" height="10" fill="#6a8a9a" opacity="0.25" filter="url(#dblur)"/>
<rect x="2092.8" y="761" width="42.0" height="14" fill="#f0a0a0" opacity="0.45"/>
<rect x="2094.8" y="764" width="38.0" height="8" fill="#b42028"/>
<rect x="2160.0" y="778" width="38.0" height="10" fill="#6a8a9a" opacity="0.25" filter="url(#dblur)"/>
<rect x="2158.0" y="761" width="42.0" height="14" fill="#f0a0a0" opacity="0.45"/>
<rect x="2160.0" y="764" width="38.0" height="8" fill="#b42028"/>
<rect x="2225.2" y="778" width="38.0" height="10" fill="#6a8a9a" opacity="0.25" filter="url(#dblur)"/>
<rect x="2223.2" y="761" width="42.0" height="14" fill="#f0a0a0" opacity="0.45"/>
<rect x="2225.2" y="764" width="38.0" height="8" fill="#b42028"/>
<rect x="2290.4" y="778" width="38.0" height="10" fill="#6a8a9a" opacity="0.25" filter="url(#dblur)"/>
<rect x="2288.4" y="761" width="42.0" height="14" fill="#f0a0a0" opacity="0.45"/>
<rect x="2290.4" y="764" width="38.0" height="8" fill="#b42028"/>
<rect x="2355.6" y="778" width="38.0" height="10" fill="#6a8a9a" opacity="0.25" filter="url(#dblur)"/>
<rect x="2353.6" y="761" width="42.0" height="14" fill="#f0a0a0" opacity="0.45"/>
<rect x="2355.6" y="764" width="38.0" height="8" fill="#b42028"/>
<rect x="2420.8" y="778" width="38.0" height="10" fill="#6a8a9a" opacity="0.25" filter="url(#dblur)"/>
<rect x="2418.8" y="761" width="42.0" height="14" fill="#f0a0a0" opacity="0.45"/>
<rect x="2420.8" y="764" width="38.0" height="8" fill="#b42028"/>
<rect x="2486.0" y="778" width="38.0" height="10" fill="#6a8a9a" opacity="0.25" filter="url(#dblur)"/>
<rect x="2484.0" y="761" width="42.0" height="14" fill="#f0a0a0" opacity="0.45"/>
<rect x="2486.0" y="764" width="38.0" height="8" fill="#b42028"/>
<rect x="2551.2" y="778" width="38.0" height="10" fill="#6a8a9a" opacity="0.25" filter="url(#dblur)"/>
<rect x="2549.2" y="761" width="42.0" height="14" fill="#f0a0a0" opacity="0.45"/>
<rect x="2551.2" y="764" width="38.0" height="8" fill="#b42028"/>
<rect x="2616.4" y="778" width="38.0" height="10" fill="#6a8a9a" opacity="0.25" filter="url(#dblur)"/>
<rect x="2614.4" y="761" width="42.0" height="14" fill="#f0a0a0" opacity="0.45"/>
<rect x="2616.4" y="764" width="38.0" height="8" fill="#b42028"/>
<rect x="2681.6" y="778" width="38.0" height="10" fill="#6a8a9a" opacity="0.25" filter="url(#dblur)"/>
<rect x="2679.6" y="761" width="42.0" height="14" fill="#f0a0a0" opacity="0.45"/>
<rect x="2681.6" y="764" width="38.0" height="8" fill="#b42028"/>
<rect x="2746.8" y="778" width="38.0" height="10" fill="#6a8a9a" opacity="0.25" filter="url(#dblur)"/>
<rect x="2744.8" y="761" width="42.0" height="14" fill="#f0a0a0" opacity="0.45"/>
<rect x="2746.8" y="764" width="38.0" height="8" fill="#b42028"/>
<rect x="2812.0" y="778" width="38.0" height="10" fill="#6a8a9a" opacity="0.25" filter="url(#dblur)"/>
<rect x="2810.0" y="761" width="42.0" height="14" fill="#f0a0a0" opacity="0.45"/>
<rect x="2812.0" y="764" width="38.0" height="8" fill="#b42028"/>
<rect x="2877.2" y="778" width="38.0" height="10" fill="#6a8a9a" opacity="0.25" filter="url(#dblur)"/>
<rect x="2875.2" y="761" width="42.0" height="14" fill="#f0a0a0" opacity="0.45"/>
<rect x="2877.2" y="764" width="38.0" height="8" fill="#b42028"/>
<rect x="2942.4" y="778" width="38.0" height="10" fill="#6a8a9a" opacity="0.25" filter="url(#dblur)"/>
<rect x="2940.4" y="761" width="42.0" height="14" fill="#f0a0a0" opacity="0.45"/>
<rect x="2942.4" y="764" width="38.0" height="8" fill="#b42028"/>
<rect x="3007.6" y="778" width="36.4" height="10" fill="#6a8a9a" opacity="0.25" filter="url(#dblur)"/>
<rect x="3005.6" y="761" width="40.4" height="14" fill="#f0a0a0" opacity="0.45"/>
<rect x="3007.6" y="764" width="36.4" height="8" fill="#b42028"/>
<rect x="216.0" y="1072" width="37.0" height="10" fill="#000" opacity="0.18" filter="url(#dblur)"/>
<rect x="216.0" y="1064" width="37.0" height="8" fill="#1c1c1c"/>
<rect x="281.2" y="1072" width="37.0" height="10" fill="#000" opacity="0.18" filter="url(#dblur)"/>
<rect x="281.2" y="1064" width="37.0" height="8" fill="#1c1c1c"/>
<rect x="346.4" y="1072" width="37.0" height="10" fill="#000" opacity="0.18" filter="url(#dblur)"/>
<rect x="346.4" y="1064" width="37.0" height="8" fill="#1c1c1c"/>
<rect x="411.6" y="1072" width="37.0" height="10" fill="#000" opacity="0.18" filter="url(#dblur)"/>
<rect x="411.6" y="1064" width="37.0" height="8" fill="#1c1c1c"/>
<rect x="476.8" y="1072" width="37.0" height="10" fill="#000" opacity="0.18" filter="url(#dblur)"/>
<rect x="476.8" y="1064" width="37.0" height="8" fill="#1c1c1c"/>
<rect x="542.0" y="1072" width="37.0" height="10" fill="#000" opacity="0.18" filter="url(#dblur)"/>
<rect x="542.0" y="1064" width="37.0" height="8" fill="#1c1c1c"/>
<rect x="607.2" y="1072" width="37.0" height="10" fill="#000" opacity="0.18" filter="url(#dblur)"/>
<rect x="607.2" y="1064" width="37.0" height="8" fill="#1c1c1c"/>
<rect x="672.4" y="1072" width="37.0" height="10" fill="#000" opacity="0.18" filter="url(#dblur)"/>
<rect x="672.4" y="1064" width="37.0" height="8" fill="#1c1c1c"/>
<rect x="737.6" y="1072" width="37.0" height="10" fill="#000" opacity="0.18" filter="url(#dblur)"/>
<rect x="737.6" y="1064" width="37.0" height="8" fill="#1c1c1c"/>
<rect x="802.8" y="1072" width="37.0" height="10" fill="#000" opacity="0.18" filter="url(#dblur)"/>
<rect x="802.8" y="1064" width="37.0" height="8" fill="#1c1c1c"/>
<rect x="868.0" y="1072" width="102.2" height="10" fill="#000" opacity="0.18" filter="url(#dblur)"/>
<rect x="868.0" y="1064" width="102.2" height="8" fill="#1c1c1c"/>
<rect x="998.4" y="1072" width="37.0" height="10" fill="#000" opacity="0.18" filter="url(#dblur)"/>
<rect x="998.4" y="1064" width="37.0" height="8" fill="#1c1c1c"/>
<rect x="1063.6" y="1072" width="37.0" height="10" fill="#000" opacity="0.18" filter="url(#dblur)"/>
<rect x="1063.6" y="1064" width="37.0" height="8" fill="#1c1c1c"/>
<rect x="1128.8" y="1072" width="37.0" height="10" fill="#000" opacity="0.18" filter="url(#dblur)"/>
<rect x="1128.8" y="1064" width="37.0" height="8" fill="#1c1c1c"/>
<rect x="1194.0" y="1072" width="37.0" height="10" fill="#000" opacity="0.18" filter="url(#dblur)"/>
<rect x="1194.0" y="1064" width="37.0" height="8" fill="#1c1c1c"/>
<rect x="1259.2" y="1072" width="37.0" height="10" fill="#000" opacity="0.18" filter="url(#dblur)"/>
<rect x="1259.2" y="1064" width="37.0" height="8" fill="#1c1c1c"/>
<rect x="1324.4" y="1072" width="37.0" height="10" fill="#000" opacity="0.18" filter="url(#dblur)"/>
<rect x="1324.4" y="1064" width="37.0" height="8" fill="#1c1c1c"/>
<rect x="1389.6" y="1072" width="37.0" height="10" fill="#000" opacity="0.18" filter="url(#dblur)"/>
<rect x="1389.6" y="1064" width="37.0" height="8" fill="#1c1c1c"/>
<rect x="1454.8" y="1072" width="37.0" height="10" fill="#000" opacity="0.18" filter="url(#dblur)"/>
<rect x="1454.8" y="1064" width="37.0" height="8" fill="#1c1c1c"/>
<rect x="1520.0" y="1072" width="37.0" height="10" fill="#000" opacity="0.18" filter="url(#dblur)"/>
<rect x="1520.0" y="1064" width="37.0" height="8" fill="#1c1c1c"/>
<rect x="1585.2" y="1072" width="37.0" height="10" fill="#000" opacity="0.18" filter="url(#dblur)"/>
<rect x="1585.2" y="1064" width="37.0" height="8" fill="#1c1c1c"/>
<rect x="1650.4" y="1072" width="37.0" height="10" fill="#000" opacity="0.18" filter="url(#dblur)"/>
<rect x="1650.4" y="1064" width="37.0" height="8" fill="#1c1c1c"/>
<rect x="1715.6" y="1072" width="37.0" height="10" fill="#000" opacity="0.18" filter="url(#dblur)"/>
<rect x="1715.6" y="1064" width="37.0" height="8" fill="#1c1c1c"/>
<rect x="1780.8" y="1072" width="37.0" height="10" fill="#000" opacity="0.18" filter="url(#dblur)"/>
<rect x="1780.8" y="1064" width="37.0" height="8" fill="#1c1c1c"/>
<rect x="1846.0" y="1072" width="37.0" height="10" fill="#000" opacity="0.18" filter="url(#dblur)"/>
<rect x="1846.0" y="1064" width="37.0" height="8" fill="#1c1c1c"/>
<rect x="1911.2" y="1072" width="37.0" height="10" fill="#000" opacity="0.18" filter="url(#dblur)"/>
<rect x="1911.2" y="1064" width="37.0" height="8" fill="#1c1c1c"/>
<rect x="1976.4" y="1072" width="37.0" height="10" fill="#000" opacity="0.18" filter="url(#dblur)"/>
<rect x="1976.4" y="1064" width="37.0" height="8" fill="#1c1c1c"/>
<rect x="2041.6" y="1072" width="37.0" height="10" fill="#000" opacity="0.18" filter="url(#dblur)"/>
<rect x="2041.6" y="1064" width="37.0" height="8" fill="#1c1c1c"/>
<rect x="2106.8" y="1072" width="37.0" height="10" fill="#000" opacity="0.18" filter="url(#dblur)"/>
<rect x="2106.8" y="1064" width="37.0" height="8" fill="#1c1c1c"/>
<rect x="2172.0" y="1072" width="37.0" height="10" fill="#000" opacity="0.18" filter="url(#dblur)"/>
<rect x="2172.0" y="1064" width="37.0" height="8" fill="#1c1c1c"/>
<rect x="2237.2" y="1072" width="37.0" height="10" fill="#000" opacity="0.18" filter="url(#dblur)"/>
<rect x="2237.2" y="1064" width="37.0" height="8" fill="#1c1c1c"/>
<rect x="2302.4" y="1072" width="37.0" height="10" fill="#000" opacity="0.18" filter="url(#dblur)"/>
<rect x="2302.4" y="1064" width="37.0" height="8" fill="#1c1c1c"/>
<rect x="2367.6" y="1072" width="37.0" height="10" fill="#000" opacity="0.18" filter="url(#dblur)"/>
<rect x="2367.6" y="1064" width="37.0" height="8" fill="#1c1c1c"/>
<rect x="2432.8" y="1072" width="37.0" height="10" fill="#000" opacity="0.18" filter="url(#dblur)"/>
<rect x="2432.8" y="1064" width="37.0" height="8" fill="#1c1c1c"/>
<rect x="2498.0" y="1072" width="37.0" height="10" fill="#000" opacity="0.18" filter="url(#dblur)"/>
<rect x="2498.0" y="1064" width="37.0" height="8" fill="#1c1c1c"/>
<rect x="2563.2" y="1072" width="37.0" height="10" fill="#000" opacity="0.18" filter="url(#dblur)"/>
<rect x="2563.2" y="1064" width="37.0" height="8" fill="#1c1c1c"/>
<rect x="2628.4" y="1072" width="37.0" height="10" fill="#000" opacity="0.18" filter="url(#dblur)"/>
<rect x="2628.4" y="1064" width="37.0" height="8" fill="#1c1c1c"/>
<rect x="2693.6" y="1072" width="37.0" height="10" fill="#000" opacity="0.18" filter="url(#dblur)"/>
<rect x="2693.6" y="1064" width="37.0" height="8" fill="#1c1c1c"/>
<rect x="2758.8" y="1072" width="37.0" height="10" fill="#000" opacity="0.18" filter="url(#dblur)"/>
<rect x="2758.8" y="1064" width="37.0" height="8" fill="#1c1c1c"/>
<rect x="2824.0" y="1072" width="37.0" height="10" fill="#000" opacity="0.18" filter="url(#dblur)"/>
<rect x="2824.0" y="1064" width="37.0" height="8" fill="#1c1c1c"/>
<rect x="2889.2" y="1072" width="102.2" height="10" fill="#000" opacity="0.18" filter="url(#dblur)"/>
<rect x="2889.2" y="1064" width="102.2" height="8" fill="#1c1c1c"/>
<rect x="3019.6" y="1072" width="24.4" height="10" fill="#000" opacity="0.18" filter="url(#dblur)"/>
<rect x="3019.6" y="1064" width="24.4" height="8" fill="#1c1c1c"/>
<text transform="translate(266.2,1469) rotate(-90)" x="0" y="0" text-anchor="end" font-family="Liberation Sans" font-weight="bold" font-size="53" fill="#31508c" textLength="227" lengthAdjust="spacingAndGlyphs">Mar-1879</text>
<text transform="translate(362.1,1469) rotate(-90)" x="0" y="0" text-anchor="end" font-family="Liberation Sans" font-weight="bold" font-size="53" fill="#31508c" textLength="234" lengthAdjust="spacingAndGlyphs">May-1885</text>
<text transform="translate(458.1,1469) rotate(-90)" x="0" y="0" text-anchor="end" font-family="Liberation Sans" font-weight="bold" font-size="53" fill="#31508c" textLength="215" lengthAdjust="spacingAndGlyphs">Apr-1888</text>
<text transform="translate(554.0,1469) rotate(-90)" x="0" y="0" text-anchor="end" font-family="Liberation Sans" font-weight="bold" font-size="53" fill="#31508c" textLength="234" lengthAdjust="spacingAndGlyphs">May-1891</text>
<text transform="translate(649.9,1469) rotate(-90)" x="0" y="0" text-anchor="end" font-family="Liberation Sans" font-weight="bold" font-size="53" fill="#31508c" textLength="209" lengthAdjust="spacingAndGlyphs">Jun-1894</text>
<text transform="translate(745.9,1469) rotate(-90)" x="0" y="0" text-anchor="end" font-family="Liberation Sans" font-weight="bold" font-size="53" fill="#31508c" textLength="209" lengthAdjust="spacingAndGlyphs">Jun-1897</text>
<text transform="translate(841.8,1469) rotate(-90)" x="0" y="0" text-anchor="end" font-family="Liberation Sans" font-weight="bold" font-size="53" fill="#31508c" textLength="219" lengthAdjust="spacingAndGlyphs">Dec-1900</text>
<text transform="translate(937.7,1469) rotate(-90)" x="0" y="0" text-anchor="end" font-family="Liberation Sans" font-weight="bold" font-size="53" fill="#31508c" textLength="224" lengthAdjust="spacingAndGlyphs">Aug-1904</text>
<text transform="translate(1033.6,1469) rotate(-90)" x="0" y="0" text-anchor="end" font-family="Liberation Sans" font-weight="bold" font-size="53" fill="#31508c" textLength="209" lengthAdjust="spacingAndGlyphs">Jun-1908</text>
<text transform="translate(1129.6,1469) rotate(-90)" x="0" y="0" text-anchor="end" font-family="Liberation Sans" font-weight="bold" font-size="53" fill="#31508c" textLength="209" lengthAdjust="spacingAndGlyphs">Jan-1912</text>
<text transform="translate(1225.5,1469) rotate(-90)" x="0" y="0" text-anchor="end" font-family="Liberation Sans" font-weight="bold" font-size="53" fill="#31508c" textLength="219" lengthAdjust="spacingAndGlyphs">Dec-1914</text>
<text transform="translate(1321.4,1469) rotate(-90)" x="0" y="0" text-anchor="end" font-family="Liberation Sans" font-weight="bold" font-size="53" fill="#31508c" textLength="227" lengthAdjust="spacingAndGlyphs">Mar-1919</text>
<text transform="translate(1417.4,1469) rotate(-90)" x="0" y="0" text-anchor="end" font-family="Liberation Sans" font-weight="bold" font-size="53" fill="#31508c" textLength="195" lengthAdjust="spacingAndGlyphs">Jul-1921</text>
<text transform="translate(1513.3,1469) rotate(-90)" x="0" y="0" text-anchor="end" font-family="Liberation Sans" font-weight="bold" font-size="53" fill="#31508c" textLength="195" lengthAdjust="spacingAndGlyphs">Jul-1924</text>
<text transform="translate(1609.2,1469) rotate(-90)" x="0" y="0" text-anchor="end" font-family="Liberation Sans" font-weight="bold" font-size="53" fill="#31508c" textLength="227" lengthAdjust="spacingAndGlyphs">Nov-1927</text>
<text transform="translate(1705.2,1469) rotate(-90)" x="0" y="0" text-anchor="end" font-family="Liberation Sans" font-weight="bold" font-size="53" fill="#31508c" textLength="227" lengthAdjust="spacingAndGlyphs">Mar-1933</text>
<text transform="translate(1801.1,1469) rotate(-90)" x="0" y="0" text-anchor="end" font-family="Liberation Sans" font-weight="bold" font-size="53" fill="#31508c" textLength="209" lengthAdjust="spacingAndGlyphs">Jun-1938</text>
<text transform="translate(1897.0,1469) rotate(-90)" x="0" y="0" text-anchor="end" font-family="Liberation Sans" font-weight="bold" font-size="53" fill="#31508c" textLength="216" lengthAdjust="spacingAndGlyphs">Oct-1945</text>
<text transform="translate(1992.9,1469) rotate(-90)" x="0" y="0" text-anchor="end" font-family="Liberation Sans" font-weight="bold" font-size="53" fill="#31508c" textLength="216" lengthAdjust="spacingAndGlyphs">Oct-1949</text>
<text transform="translate(2088.9,1469) rotate(-90)" x="0" y="0" text-anchor="end" font-family="Liberation Sans" font-weight="bold" font-size="53" fill="#31508c" textLength="234" lengthAdjust="spacingAndGlyphs">May-1954</text>
<text transform="translate(2184.8,1469) rotate(-90)" x="0" y="0" text-anchor="end" font-family="Liberation Sans" font-weight="bold" font-size="53" fill="#31508c" textLength="215" lengthAdjust="spacingAndGlyphs">Apr-1958</text>
<text transform="translate(2280.7,1469) rotate(-90)" x="0" y="0" text-anchor="end" font-family="Liberation Sans" font-weight="bold" font-size="53" fill="#31508c" textLength="216" lengthAdjust="spacingAndGlyphs">Oct-1960</text>
<text transform="translate(2376.7,1469) rotate(-90)" x="0" y="0" text-anchor="end" font-family="Liberation Sans" font-weight="bold" font-size="53" fill="#31508c" textLength="227" lengthAdjust="spacingAndGlyphs">Nov-1970</text>
<text transform="translate(2472.6,1469) rotate(-90)" x="0" y="0" text-anchor="end" font-family="Liberation Sans" font-weight="bold" font-size="53" fill="#31508c" textLength="227" lengthAdjust="spacingAndGlyphs">Mar-1975</text>
<text transform="translate(2568.5,1469) rotate(-90)" x="0" y="0" text-anchor="end" font-family="Liberation Sans" font-weight="bold" font-size="53" fill="#31508c" textLength="195" lengthAdjust="spacingAndGlyphs">Jul-1980</text>
<text transform="translate(2664.4,1469) rotate(-90)" x="0" y="0" text-anchor="end" font-family="Liberation Sans" font-weight="bold" font-size="53" fill="#31508c" textLength="227" lengthAdjust="spacingAndGlyphs">Nov-1982</text>
<text transform="translate(2760.4,1469) rotate(-90)" x="0" y="0" text-anchor="end" font-family="Liberation Sans" font-weight="bold" font-size="53" fill="#31508c" textLength="227" lengthAdjust="spacingAndGlyphs">Mar-1991</text>
<text transform="translate(2856.3,1469) rotate(-90)" x="0" y="0" text-anchor="end" font-family="Liberation Sans" font-weight="bold" font-size="53" fill="#31508c" textLength="219" lengthAdjust="spacingAndGlyphs">Sep-2001</text>
<text transform="translate(2952.2,1469) rotate(-90)" x="0" y="0" text-anchor="end" font-family="Liberation Sans" font-weight="bold" font-size="53" fill="#31508c" textLength="209" lengthAdjust="spacingAndGlyphs">Jun-2009</text>
<text transform="translate(2955,1392) rotate(-90)" x="0" y="0" font-family="Liberation Sans" font-weight="bold" font-size="60" fill="#ffffff" textLength="499" lengthAdjust="spacingAndGlyphs">Current Recovery</text>
<text x="370" y="756" font-family="Liberation Sans" font-size="72" fill="#111" textLength="806" lengthAdjust="spacingAndGlyphs">Текущее восстановление</text>
<text x="341.5" y="1038" font-family="Liberation Sans" font-size="72" fill="#111" textLength="819.5" lengthAdjust="spacingAndGlyphs">Среднее восстановление</text>
<text x="34" y="158.5" font-family="Liberation Sans" font-size="100" fill="#0a0a0a" stroke="#0a0a0a" stroke-width="0.8" textLength="2887" lengthAdjust="spacingAndGlyphs">Средняя длительность восстановления после кризиса - 39 мес.</text>
</svg></body></html>
